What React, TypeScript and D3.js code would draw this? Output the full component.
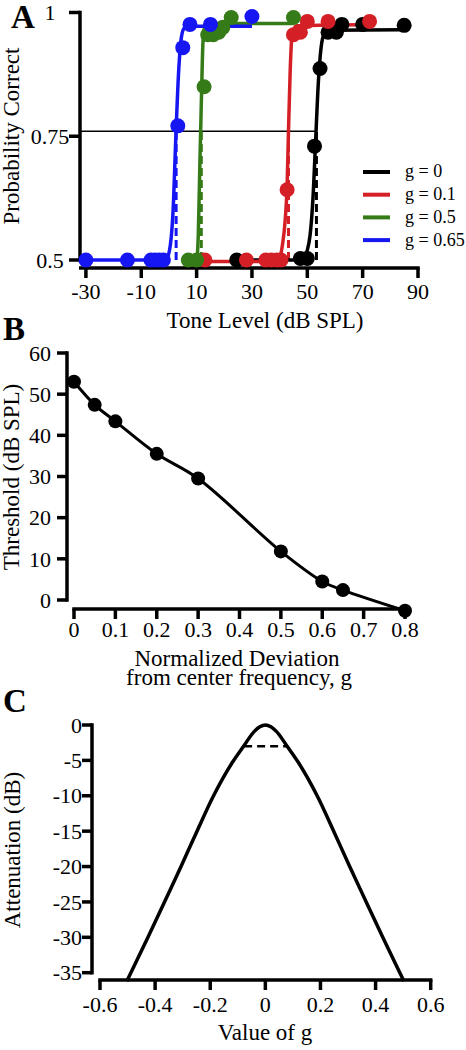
import React from "react";
import * as d3 from "d3";

// ---------- Panel A data ----------
const seriesNames = ["g = 0", "g = 0.1", "g = 0.5", "g = 0.65"];
const seriesColors = ["#000000", "#d41f26", "#357c18", "#1616f2"];

const ptsX_g0 = [24.5, 47.5, 50, 52.6, 54.6, 57.5, 60.5, 62.5, 70, 85];
const ptsY_g0 = [0.5, 0.503, 0.503, 0.73, 0.887, 0.96, 0.96, 0.976, 0.976, 0.974];
const ptsX_g01 = [13, 28, 35, 37, 39, 40.5, 42.7, 45, 47.5, 50, 57.5, 72.5];
const ptsY_g01 = [0.5, 0.5, 0.5, 0.5, 0.5, 0.5, 0.642, 0.955, 0.96, 0.982, 0.982, 0.982];
const ptsX_g05 = [7, 10, 12.7, 14, 16, 18, 19.5, 22.5, 45];
const ptsY_g05 = [0.5, 0.5, 0.85, 0.955, 0.955, 0.96, 0.97, 0.99, 0.99];
const ptsX_g065 = [-30, -15, -6.5, -5, -3.5, -2, 3.2, 5, 7.6, 15, 30];
const ptsY_g065 = [0.5, 0.5, 0.5, 0.5, 0.5, 0.5, 0.771, 0.929, 0.976, 0.976, 0.992];

// fitted curves
const fitX_g0 = [24.5, 46, 48.5, 50, 51, 52, 53, 54, 55, 56, 58, 85];
const fitY_g0 = [0.5, 0.5, 0.505, 0.52, 0.55, 0.62, 0.74, 0.86, 0.93, 0.955, 0.964, 0.965];
const fitX_g01 = [13, 38, 40, 41, 42, 42.7, 43.2, 43.8, 44.5, 46, 73];
const fitY_g01 = [0.497, 0.497, 0.505, 0.53, 0.58, 0.65, 0.76, 0.88, 0.955, 0.973, 0.976];
const fitX_g05 = [5, 10, 10.6, 11.2, 11.8, 12.3, 13, 15, 45];
const fitY_g05 = [0.5, 0.5, 0.55, 0.7, 0.84, 0.94, 0.972, 0.978, 0.978];
const fitX_g065 = [-30, -1, 0.5, 1.5, 2.5, 3.5, 4.5, 5.5, 7, 30];
const fitY_g065 = [0.5, 0.5, 0.53, 0.6, 0.75, 0.88, 0.95, 0.968, 0.972, 0.972];

const thresholdsA = [53.3, 43.2, 11.7, 2.6];
const criterionA = 0.76;

const aXTicks = [-30, -10, 10, 30, 50, 70, 90];
const aYTicks = [0.5, 0.75, 1];
const aYTickLabels = ["0.5", "0.75", "1"];

// ---------- Panel B data ----------
const bG = [0, 0.05, 0.1, 0.2, 0.3, 0.5, 0.6, 0.65, 0.8];
const bThreshold = [53.0, 47.4, 43.4, 35.5, 29.5, 11.8, 4.5, 2.4, -2.6];
const bXTicks = [0, 0.1, 0.2, 0.3, 0.4, 0.5, 0.6, 0.7, 0.8];
const bYTicks = [0, 10, 20, 30, 40, 50, 60];

// ---------- Panel C data ----------
const cG = [-0.503, -0.488, -0.426, -0.366, -0.306, -0.248, -0.188, -0.12, -0.079, -0.04, -0.02, 0, 0.02, 0.04, 0.079, 0.12, 0.188, 0.248, 0.306, 0.366, 0.426, 0.488, 0.503];
const cDb = [-36.2, -35, -30, -25, -20, -15, -10, -5.3, -3, -0.9, -0.25, 0, -0.25, -0.9, -3, -5.3, -10, -15, -20, -25, -30, -35, -36.2];
const cHalfPowerG = [-0.077, 0.079];
const cHalfPowerDb = -3;
const cXTicks = [-0.6, -0.4, -0.2, 0, 0.2, 0.4, 0.6];
const cYTicks = [0, -5, -10, -15, -20, -25, -30, -35];

const FONT = "Liberation Serif";
const TICK_FS = 22;
const TITLE_FS = 23;

export default function App() {
  // Panel A scales
  const ax = d3.scaleLinear().domain([-32.5, 90]).range([79, 418]);
  const ay = d3.scaleLinear().domain([0.5, 1]).range([260, 12.5]);
  const aAxisY = 268;
  const aYAxisX = 80;

  const fits = [
    [fitX_g0, fitY_g0],
    [fitX_g01, fitY_g01],
    [fitX_g05, fitY_g05],
    [fitX_g065, fitY_g065],
  ];
  const pts = [
    [ptsX_g0, ptsY_g0],
    [ptsX_g01, ptsY_g01],
    [ptsX_g05, ptsY_g05],
    [ptsX_g065, ptsY_g065],
  ];
  const aLine = d3
    .line<[number, number]>()
    .x((d) => ax(d[0]))
    .y((d) => ay(d[1]))
    .curve(d3.curveMonotoneX);

  // Panel B scales
  const bx = d3.scaleLinear().domain([0, 0.8]).range([74, 405]);
  const by = d3.scaleLinear().domain([0, 60]).range([600, 353]);
  const bAxisY = 609;
  const bYAxisX = 67;
  const bLine = d3
    .line<number>()
    .x((_, i) => bx(bG[i]))
    .y((d) => by(d))
    .curve(d3.curveCatmullRom.alpha(0.5));

  // Panel C scales
  const cx = d3.scaleLinear().domain([-0.6, 0.6]).range([100, 430.7]);
  const cy = d3.scaleLinear().domain([-35, 0]).range([972.7, 725]);
  const cAxisY = 980;
  const cYAxisX = 92;
  const cLine = d3
    .line<number>()
    .x((_, i) => cx(cG[i]))
    .y((d) => cy(d))
    .curve(d3.curveMonotoneX);

  const axisW = 3.5;
  const tickLen = 10;

  return (
    <svg
      width={466}
      height={1050}
      style={{ position: "absolute", left: 0, top: 0, background: "#fff", fontFamily: FONT }}
    >
      <rect x={0} y={0} width={466} height={1050} fill="#fff" />

      {/* ================= Panel A ================= */}
      <text x={11} y={28} fontSize={33} fontWeight="bold">A</text>
      <line x1={aYAxisX} x2={aYAxisX} y1={ay(1) - axisW / 2} y2={ay(0.5) + axisW / 2} stroke="#000" strokeWidth={axisW} />
      {aYTicks.map((t, i) => (
        <g key={"ayt" + i}>
          <line x1={aYAxisX - tickLen - 1} x2={aYAxisX} y1={ay(t)} y2={ay(t)} stroke="#000" strokeWidth={axisW} />
          <text x={50} y={ay(t)} dy="0.35em" fontSize={TICK_FS} textAnchor="middle">{aYTickLabels[i]}</text>
        </g>
      ))}
      <line x1={ax(-32.5)} x2={ax(90) + axisW / 2} y1={aAxisY} y2={aAxisY} stroke="#000" strokeWidth={axisW} />
      {aXTicks.map((t) => (
        <g key={"axt" + t}>
          <line x1={ax(t)} x2={ax(t)} y1={aAxisY} y2={aAxisY + tickLen} stroke="#000" strokeWidth={axisW} />
          <text x={ax(t)} y={299} fontSize={TICK_FS} textAnchor="middle">{t}</text>
        </g>
      ))}
      <text x={265} y={328} fontSize={TITLE_FS} textAnchor="middle">Tone Level (dB SPL)</text>
      <text transform={`translate(19,136) rotate(-90)`} fontSize={TITLE_FS} textAnchor="middle">Probability Correct</text>

      {/* criterion line */}
      <line x1={ax(-32.5)} x2={ax(thresholdsA[0])} y1={ay(criterionA)} y2={ay(criterionA)} stroke="#000" strokeWidth={1.5} />

      {/* dashed threshold markers */}
      {thresholdsA.map((t, i) => (
        <line key={"th" + i} x1={ax(t)} x2={ax(t)} y1={ay(0.5)} y2={ay(criterionA)} stroke={seriesColors[i]} strokeWidth={3} strokeDasharray="8,4" />
      ))}

      {/* fits and points */}
      {fits.map((f, i) => {
        const data: [number, number][] = f[0].map((x, j) => [x, f[1][j]]);
        return (
          <path key={"fit" + i} d={aLine(data) || ""} fill="none" stroke={seriesColors[i]} strokeWidth={3.5} />
        );
      })}
      {pts.map((p, i) => (
        <g key={"pts" + i} fill={seriesColors[i]}>
          {p[0].map((x, j) => (
            <circle key={j} cx={ax(x)} cy={ay(p[1][j])} r={7.5} />
          ))}
        </g>
      ))}

      {/* legend */}
      {seriesNames.map((n, i) => {
        const ly = 172 + i * 22.7;
        return (
          <g key={"leg" + i}>
            <line x1={363} x2={390} y1={ly} y2={ly} stroke={seriesColors[i]} strokeWidth={4} />
            <text x={405} y={ly} dy="0.3em" fontSize={18}>{n}</text>
          </g>
        );
      })}

      {/* ================= Panel B ================= */}
      <text x={3} y={340} fontSize={33} fontWeight="bold">B</text>
      <line x1={bYAxisX} x2={bYAxisX} y1={by(60) - axisW / 2} y2={by(0) + axisW / 2} stroke="#000" strokeWidth={axisW} />
      {bYTicks.map((t) => (
        <g key={"byt" + t}>
          <line x1={bYAxisX - tickLen} x2={bYAxisX} y1={by(t)} y2={by(t)} stroke="#000" strokeWidth={axisW} />
          <text x={51} y={by(t)} dy="0.35em" fontSize={TICK_FS} textAnchor="end">{t}</text>
        </g>
      ))}
      <line x1={bx(0) - axisW / 2} x2={bx(0.8) + axisW / 2} y1={bAxisY} y2={bAxisY} stroke="#000" strokeWidth={axisW} />
      {bXTicks.map((t) => (
        <g key={"bxt" + t}>
          <line x1={bx(t)} x2={bx(t)} y1={bAxisY} y2={bAxisY + tickLen} stroke="#000" strokeWidth={axisW} />
          <text x={bx(t)} y={637} fontSize={TICK_FS} textAnchor="middle">{t}</text>
        </g>
      ))}
      <text x={237} y={666} fontSize={TITLE_FS} textAnchor="middle">Normalized Deviation</text>
      <text x={239} y={685} fontSize={TITLE_FS} textAnchor="middle">from center frequency, g</text>
      <text transform={`translate(19,477) rotate(-90)`} fontSize={TITLE_FS} textAnchor="middle">Threshold (dB SPL)</text>
      <path d={bLine(bThreshold) || ""} fill="none" stroke="#000" strokeWidth={3} />
      {bThreshold.map((v, i) => (
        <circle key={"bp" + i} cx={bx(bG[i])} cy={by(v)} r={7} fill="#000" />
      ))}

      {/* ================= Panel C ================= */}
      <text x={3} y={712} fontSize={33} fontWeight="bold">C</text>
      <line x1={cYAxisX} x2={cYAxisX} y1={cy(0) - axisW / 2} y2={cy(-35) + axisW / 2} stroke="#000" strokeWidth={axisW} />
      {cYTicks.map((t) => (
        <g key={"cyt" + t}>
          <line x1={cYAxisX - tickLen} x2={cYAxisX} y1={cy(t)} y2={cy(t)} stroke="#000" strokeWidth={axisW} />
          <text x={82} y={cy(t)} dy="0.35em" fontSize={TICK_FS} textAnchor="end">{t}</text>
        </g>
      ))}
      <line x1={cx(-0.6) - axisW / 2} x2={cx(0.6) + axisW / 2} y1={cAxisY} y2={cAxisY} stroke="#000" strokeWidth={axisW} />
      {cXTicks.map((t) => (
        <g key={"cxt" + t}>
          <line x1={cx(t)} x2={cx(t)} y1={cAxisY} y2={cAxisY + tickLen} stroke="#000" strokeWidth={axisW} />
          <text x={cx(t)} y={1012} fontSize={TICK_FS} textAnchor="middle">{t}</text>
        </g>
      ))}
      <text x={265} y={1040} fontSize={TITLE_FS} textAnchor="middle">Value of g</text>
      <text transform={`translate(20,850) rotate(-90)`} fontSize={TITLE_FS} textAnchor="middle">Attenuation (dB)</text>
      <path d={cLine(cDb) || ""} fill="none" stroke="#000" strokeWidth={3.5} />
      <line x1={cx(cHalfPowerG[0])} x2={cx(cHalfPowerG[1])} y1={cy(cHalfPowerDb)} y2={cy(cHalfPowerDb)} stroke="#000" strokeWidth={2.5} strokeDasharray="8,5" />
    </svg>
  );
}
